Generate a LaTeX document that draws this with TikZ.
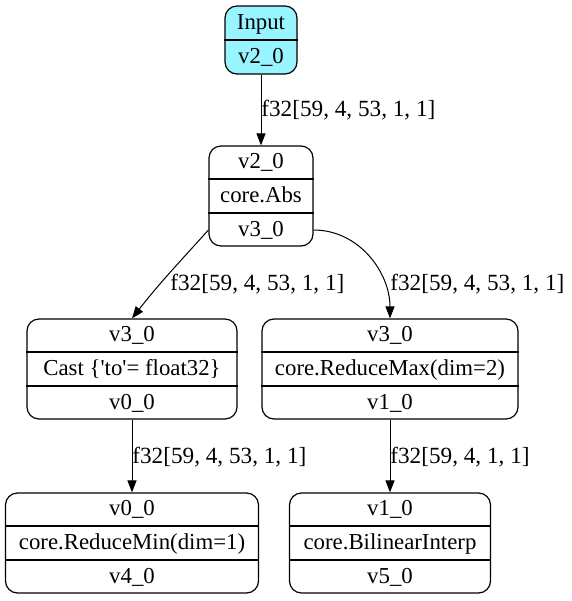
\documentclass[tikz,border=0pt]{standalone}
\usepackage{fontspec}
\setmainfont{Liberation Serif}
\usetikzlibrary{arrows.meta}
\definecolor{inputcyan}{HTML}{98F5FF}
\tikzset{
  box/.style={draw, rounded corners=6pt, line width=0.6pt, inner sep=0pt, minimum height=50pt},
  cell/.style={anchor=base, inner sep=0pt, font=\fontsize{11.4}{14}\selectfont},
  lbl/.style={anchor=base west, inner sep=0pt, font=\fontsize{11.6}{14}\selectfont},
  edge/.style={-{Triangle[length=6pt,width=4.5pt]}, line width=0.5pt}
}
\begin{document}
\begin{tikzpicture}[x=0.5pt, y=-0.5pt]
    \useasboundingbox (0,0) rectangle (572,601);
    % input node
    \node[box, fill=inputcyan, minimum width=36pt, minimum height=34pt] (inp) at (261,40) {};
    \draw[line width=0.6pt] (inp.west) -- (inp.east);
    \node[cell] (inpa) at (261,29) {Input};
    \node[cell] (inpb) at (261,63) {v2\_0};
    % operator nodes
    \foreach \n/\x/\y/\w/\a/\b/\c in {
      abs/261/196/52pt/v2\_0/core.Abs/v3\_0,
      cast/132/369/105pt/v3\_0/{Cast \{\textquotesingle to\textquotesingle= float32\}}/v0\_0,
      rmax/390/369/128pt/v3\_0/core.ReduceMax(dim=2)/v1\_0,
      rmin/132/543/126.5pt/v0\_0/core.ReduceMin(dim=1)/v4\_0,
      bil/390/543/100.5pt/v1\_0/core.BilinearInterp/v5\_0}{
    \node[box, minimum width=\w] (\n) at (\x,\y) {};
    \draw[line width=0.6pt] ([yshift=8.5pt]\n.west) -- ([yshift=8.5pt]\n.east)
      ([yshift=-8.5pt]\n.west) -- ([yshift=-8.5pt]\n.east);
    \node[cell] (\n a) at (\x,\y-28) {\a};
    \node[cell] (\n b) at (\x,\y+6) {\b};
    \node[cell] (\n c) at (\x,\y+40) {\c};
    }
    % edges
    \draw[edge] (inp) -- (abs);
    \draw[edge] ([yshift=-17pt]abs.west) to[out=228,in=52] (cast.north);
    \draw[edge] ([yshift=-17pt]abs.east) to[out=0,in=90] (rmax.north);
    \draw[edge] (cast) -- (rmin);
    \draw[edge] (rmax) -- (bil);
    \node[lbl] (l1) at (261,116) {f32[59, 4, 53, 1, 1]};
    \node[lbl] (l2) at (170,290) {f32[59, 4, 53, 1, 1]};
    \node[lbl] (l3) at (390,290) {f32[59, 4, 53, 1, 1]};
    \node[lbl] (l4) at (132,463) {f32[59, 4, 53, 1, 1]};
    \node[lbl] (l5) at (390,463) {f32[59, 4, 1, 1]};
\end{tikzpicture}
\end{document}
